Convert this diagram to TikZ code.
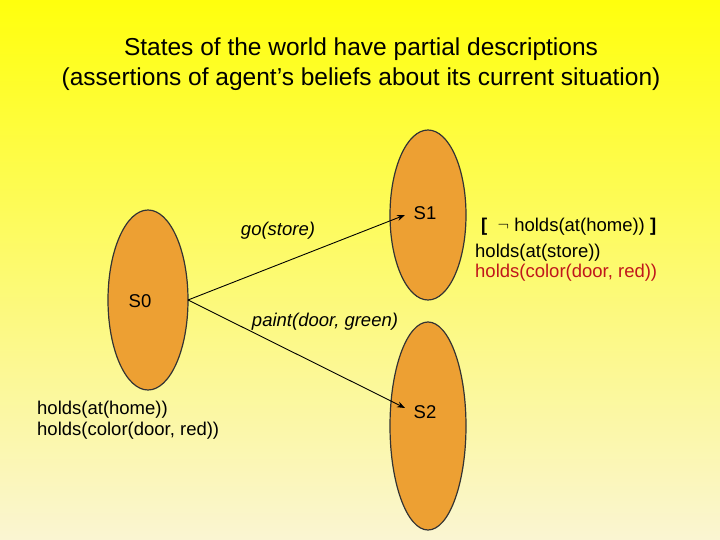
\documentclass[tikz,border=0pt]{standalone}
\usepackage{fontspec}
\setmainfont{Liberation Sans}
\usetikzlibrary{shapes.geometric,arrows.meta}
\definecolor{orng}{HTML}{EDA033}
\definecolor{redt}{HTML}{C0161B}
\begin{document}
\begin{tikzpicture}[x=1pt,y=-1pt,
  st/.style={ellipse,draw=black!80,line width=1.2pt,fill=orng,minimum width=76pt,inner sep=0pt},
  lbl/.style={font=\fontsize{18.5}{21}\selectfont,inner sep=0pt},
  arr/.style={-{Stealth[length=8pt,width=6pt]},line width=0.9pt}]
\useasboundingbox (0,0) rectangle (720,540);
\shade[top color=yellow!95!white, bottom color={rgb,255:red,250;green,245;blue,210}] (0,0) rectangle (720,540);
\node[lbl,font=\fontsize{24.5}{30}\selectfont,align=center] (title) at (361,64) {States of the world have partial descriptions\\(assertions of agent’s beliefs about its current situation)};
\node[st,minimum width=80pt,minimum height=180pt] (s0) at (148,300) {};
\node[st,minimum height=170pt] (s1) at (428,215) {};
\node[st,minimum height=208pt] (s2) at (428,426) {};
\node[lbl] (l0) at (140,301) {S0};
\node[lbl] (l1) at (425,213) {S1};
\node[lbl] (l2) at (425,412) {S2};
\coordinate (src) at (188,300);
\coordinate (t1) at (405,215);
\coordinate (t2) at (405,408);
\draw[arr] (src) -- (t1);
\draw[arr] (src) -- (t2);
\node[lbl,font=\fontsize{18.5}{21}\selectfont\itshape] (g) at (278,231) {go(store)};
\node[lbl,font=\fontsize{18.5}{21}\selectfont\itshape] (p) at (325,322) {paint(door, green)};
\node[lbl,align=left,anchor=west] (h0) at (37,420) {holds(at(home))\\holds(color(door, red))};
\node[lbl,anchor=west] (neg) at (481,227) {\textbf{[}\ \ \raisebox{1pt}{$\neg$}\ holds(at(home)) \textbf{]}};
\node[lbl,anchor=west] (h1) at (475,253) {holds(at(store))};
\node[lbl,anchor=west,text=redt] (h2) at (475,273) {holds(color(door, red))};
\end{tikzpicture}
\end{document}
